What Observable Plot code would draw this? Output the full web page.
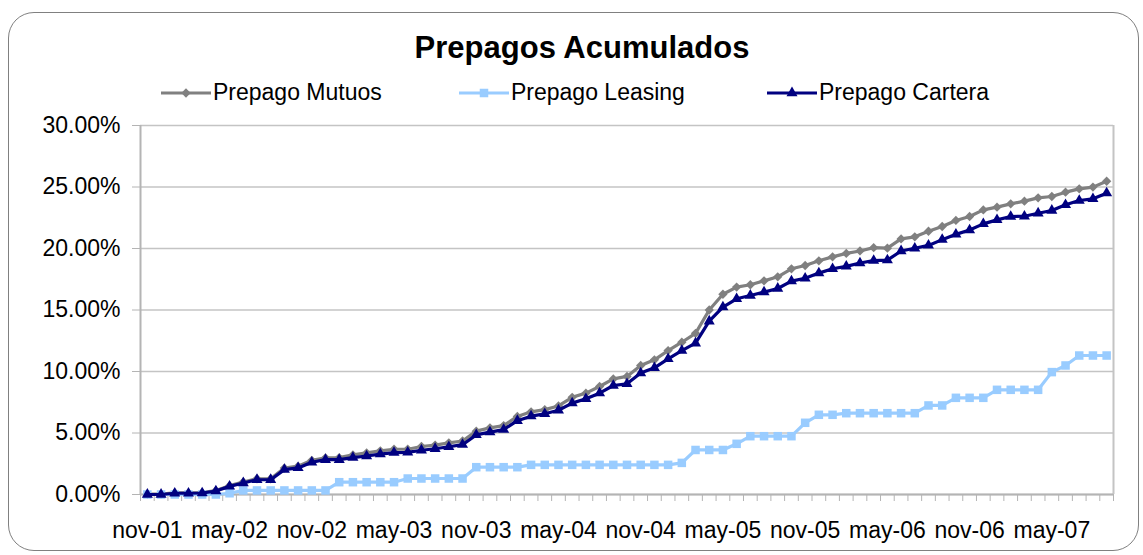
<!DOCTYPE html>
<html><head><meta charset="utf-8">
<script src="https://cdn.jsdelivr.net/npm/d3@7"></script>
<script src="https://cdn.jsdelivr.net/npm/@observablehq/plot@0.6"></script>
<style>
html,body{margin:0;padding:0;background:#fff;}
body{width:1143px;height:555px;position:relative;overflow:hidden;font-family:"Liberation Sans",Arial,sans-serif;}
#frame{position:absolute;left:8px;top:12px;width:1131px;height:539px;border:1.5px solid #808080;border-radius:26px;box-sizing:border-box;}
#title{position:absolute;left:0;width:1164px;top:32px;text-align:center;font-weight:bold;font-size:31px;line-height:1;color:#000;}
.leg{position:absolute;top:81px;height:23px;font-size:23px;line-height:1;color:#000;white-space:nowrap;}
.leg svg{position:absolute;left:0;top:0;}
.leg span{position:absolute;left:53px;top:0;}
#chart{position:absolute;left:0;top:0;}
</style></head>
<body>
<div id="frame"></div>
<div id="chart"></div>
<div id="title">Prepagos Acumulados</div>
<div id="legend"></div>
<script>
const months = ["nov-01","dic-01","ene-02","feb-02","mar-02","abr-02","may-02","jun-02","jul-02","ago-02","sep-02","oct-02",
"nov-02","dic-02","ene-03","feb-03","mar-03","abr-03","may-03","jun-03","jul-03","ago-03","sep-03","oct-03",
"nov-03","dic-03","ene-04","feb-04","mar-04","abr-04","may-04","jun-04","jul-04","ago-04","sep-04","oct-04",
"nov-04","dic-04","ene-05","feb-05","mar-05","abr-05","may-05","jun-05","jul-05","ago-05","sep-05","oct-05",
"nov-05","dic-05","ene-06","feb-06","mar-06","abr-06","may-06","jun-06","jul-06","ago-06","sep-06","oct-06",
"nov-06","dic-06","ene-07","feb-07","mar-07","abr-07","may-07","jun-07","jul-07","ago-07","sep-07"];

const seriesNames = ["Prepago Mutuos","Prepago Leasing","Prepago Cartera"];

const mutuos = [0.03,0.03,0.13,0.13,0.15,0.32,0.72,1.02,1.28,1.28,2.15,2.30,
2.78,2.98,3.00,3.22,3.38,3.55,3.68,3.68,3.90,4.02,4.20,4.35,
5.15,5.42,5.60,6.35,6.72,6.90,7.20,7.90,8.24,8.78,9.40,9.60,
10.49,10.95,11.70,12.38,13.10,15.00,16.28,16.86,17.05,17.37,17.70,18.35,
18.62,19.00,19.32,19.60,19.80,20.07,20.03,20.78,20.95,21.40,21.79,22.28,
22.60,23.14,23.36,23.63,23.85,24.12,24.23,24.58,24.85,24.99,25.47];

const leasing = [0,0,0,0,0,0,0.10,0.33,0.33,0.33,0.33,0.33,
0.33,0.33,1.00,1.00,1.00,1.00,1.00,1.30,1.30,1.30,1.30,1.30,
2.22,2.22,2.22,2.22,2.41,2.41,2.41,2.41,2.41,2.41,2.41,2.41,
2.41,2.41,2.41,2.57,3.62,3.62,3.62,4.12,4.74,4.74,4.74,4.74,
5.83,6.48,6.48,6.61,6.61,6.61,6.61,6.61,6.61,7.24,7.24,7.86,
7.86,7.86,8.51,8.51,8.51,8.51,9.95,10.49,11.30,11.30,11.30];

const cartera = [0.00,0.00,0.10,0.10,0.12,0.28,0.66,0.94,1.20,1.20,2.02,2.16,
2.62,2.83,2.83,3.00,3.13,3.28,3.40,3.42,3.60,3.72,3.88,4.05,
4.85,5.07,5.28,6.00,6.37,6.56,6.85,7.43,7.78,8.24,8.86,9.00,
9.87,10.30,11.03,11.70,12.30,14.09,15.23,15.91,16.18,16.45,16.75,17.35,
17.58,18.00,18.35,18.55,18.82,19.02,19.05,19.80,20.02,20.25,20.72,21.15,
21.50,22.00,22.33,22.60,22.62,22.87,23.09,23.55,23.90,24.04,24.50];

const yTicks = [0,5,10,15,20,25,30];
const xLabelIdx = [0,6,12,18,24,30,36,42,48,54,60,66];

const colors = {"Prepago Mutuos":"#808080","Prepago Leasing":"#99ccff","Prepago Cartera":"#000080"};
const symbols = {"Prepago Mutuos":"diamond2","Prepago Leasing":"square","Prepago Cartera":"triangle"};
const radii = {"Prepago Mutuos":4.2,"Prepago Leasing":4.8,"Prepago Cartera":4.1};

const valuesBySeries = {"Prepago Mutuos":mutuos,"Prepago Leasing":leasing,"Prepago Cartera":cartera};
const rows = [];
for (const s of seriesNames) valuesBySeries[s].forEach((v,i)=>rows.push({i, s, v}));
const boundaries = d3.range(-0.5, months.length, 1);

const marks = [
  Plot.gridY(yTicks, {stroke:"#c4c4c4", strokeOpacity:1, strokeWidth:1.5}),
  Plot.ruleX([-0.5], {stroke:"#b4b4b4", strokeWidth:2}),
  Plot.ruleX([months.length-0.5], {stroke:"#c4c4c4", strokeWidth:2}),
  Plot.ruleY([0], {stroke:"#b4b4b4", strokeWidth:2}),
  Plot.axisY(yTicks, {tickSize:8, tickPadding:12, tickFormat:d=>d.toFixed(2)+"%", stroke:"#b4b4b4", fontSize:23, label:null}),
  Plot.axisX(boundaries, {tickSize:7, tickFormat:()=>"", stroke:"#b4b4b4", label:null}),
  Plot.axisX(xLabelIdx, {tickSize:0, tickPadding:27, tickFormat:i=>months[i], fontSize:23, label:null})
];
for (const s of seriesNames) {
  const d = rows.filter(r=>r.s===s);
  marks.push(Plot.line(d, {x:"i", y:"v", stroke:colors[s], strokeWidth:3.2, strokeLinejoin:"round"}));
  marks.push(Plot.dot(d, {x:"i", y:"v", symbol:symbols[s], r:radii[s], fill:colors[s], stroke:"none"}));
}

const chart = Plot.plot({
  width:1143, height:555,
  marginLeft:140, marginRight:30, marginTop:125, marginBottom:61,
  x:{type:"linear", domain:[-0.5, months.length-0.5]},
  y:{domain:[0,30]},
  style:{fontFamily:"'Liberation Sans', Arial, sans-serif", fontSize:"23px", color:"#000", background:"transparent", overflow:"visible"},
  marks
});
document.getElementById("chart").appendChild(chart);

// legend
const legendPos = {"Prepago Mutuos":160,"Prepago Leasing":458,"Prepago Cartera":766};
const legend = document.getElementById("legend");
const symMap = {diamond2:d3.symbolDiamond2, square:d3.symbolSquare, triangle:d3.symbolTriangle};
for (const s of seriesNames) {
  const div = document.createElement("div");
  div.className = "leg";
  div.style.left = legendPos[s] + "px";
  const svg = d3.create("svg").attr("width",52).attr("height",24);
  svg.append("line").attr("x1",1).attr("x2",51).attr("y1",12).attr("y2",12).attr("stroke",colors[s]).attr("stroke-width",3.2);
  svg.append("path").attr("transform","translate(26,12)")
    .attr("d", d3.symbol(symMap[symbols[s]], Math.PI*radii[s]*radii[s])())
    .attr("fill", colors[s]);
  div.appendChild(svg.node());
  const span = document.createElement("span");
  span.textContent = s;
  div.appendChild(span);
  legend.appendChild(div);
}
</script>
</body></html>
